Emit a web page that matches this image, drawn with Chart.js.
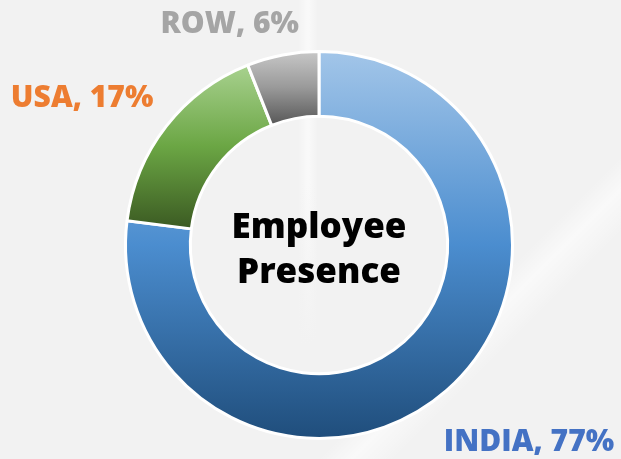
<!DOCTYPE html>
<html lang="en">
<head>
  <meta charset="UTF-8">
  <title>Employee Presence</title>
  <style>
    html, body { margin: 0; padding: 0; }
    body {
      width: 621px; height: 459px; overflow: hidden;
      background:
        linear-gradient(135deg, rgba(255,255,255,0) 72%, rgba(255,255,255,0.55) 75%, rgba(255,255,255,0) 79%),
        linear-gradient(180deg, rgba(242,242,242,0) 40%, #f2f2f2 75%),
        linear-gradient(90deg, rgba(255,255,255,0) 298px, rgba(255,255,255,0.6) 308px, rgba(255,255,255,0) 318px),
        #f2f2f2;
    }
    #wrap { position: relative; width: 621px; height: 459px; }
  </style>
</head>
<body>
  <div id="wrap"><canvas id="presenceChart"></canvas></div>

  <script src="https://cdn.jsdelivr.net/npm/chart.js"></script>
  <script>
    // regions and share of employees (%)
    const regions = ['INDIA', 'USA', 'ROW'];
    const shares = [77, 17, 6];
    const centerLines = ['Employee', 'Presence'];

    // top -> bottom gradient stops for each slice
    const sliceStops = [
      ['#a3c6e9', '#4b8dcf', '#1f4d7b'],
      ['#a9d290', '#6ba644', '#3b5a22'],
      ['#c9c9c9', '#9a9a9a', '#585858']
    ];
    const labelColors = ['#4472c4', '#ed7d31', '#a5a5a5'];
    // label offset from the outer mid point of each slice
    const labelShift = [[82, 52], [-84, -28], [-53, -30]];

    const FONT = '"Open Sans", "Noto Sans", sans-serif';

    // vertical extent of one slice, so each slice gets its own gradient
    function sliceRange(chart, index) {
      const area = chart.chartArea;
      const cy = (area.top + area.bottom) / 2;
      const outer = Math.min(area.right - area.left, area.bottom - area.top) / 2;
      const inner = outer * 0.665;
      const total = shares.reduce((a, b) => a + b, 0);
      let start = -Math.PI / 2;
      for (let i = 0; i < index; i++) start += shares[i] / total * Math.PI * 2;
      const end = start + shares[index] / total * Math.PI * 2;
      let top = Infinity, bottom = -Infinity;
      for (let s = 0; s <= 60; s++) {
        const a = start + (end - start) * s / 60;
        [outer, inner].forEach(r => {
          const y = cy + r * Math.sin(a);
          top = Math.min(top, y);
          bottom = Math.max(bottom, y);
        });
      }
      return [top, bottom];
    }

    const sliceLabels = {
      id: 'sliceLabels',
      afterDatasetsDraw(chart) {
        const ctx = chart.ctx;
        const arcs = chart.getDatasetMeta(0).data;
        ctx.save();
        ctx.font = '800 30px ' + FONT;
        ctx.textAlign = 'center';
        ctx.textBaseline = 'middle';
        arcs.forEach((arc, i) => {
          const mid = (arc.startAngle + arc.endAngle) / 2;
          const x = arc.x + arc.outerRadius * Math.cos(mid) + labelShift[i][0];
          const y = arc.y + arc.outerRadius * Math.sin(mid) + labelShift[i][1];
          ctx.fillStyle = labelColors[i];
          ctx.fillText(regions[i] + ', ' + shares[i] + '%', x, y);
        });

        // title in the hole
        const a = arcs[0];
        ctx.fillStyle = '#000000';
        ctx.font = '800 35px ' + FONT;
        ctx.textBaseline = 'alphabetic';
        ctx.fillText(centerLines[0], a.x, a.y - 7);
        ctx.fillText(centerLines[1], a.x, a.y + 38);
        ctx.restore();
      }
    };

    new Chart(document.getElementById('presenceChart'), {
      type: 'doughnut',
      data: {
        labels: regions,
        datasets: [{
          data: shares,
          backgroundColor(context) {
            const chart = context.chart;
            if (!chart.chartArea) return sliceStops[context.dataIndex][1];
            const [top, bottom] = sliceRange(chart, context.dataIndex);
            const g = chart.ctx.createLinearGradient(0, top, 0, bottom);
            const stops = sliceStops[context.dataIndex];
            g.addColorStop(0, stops[0]);
            g.addColorStop(0.5, stops[1]);
            g.addColorStop(1, stops[2]);
            return g;
          },
          borderColor: '#ffffff',
          borderWidth: 3
        }]
      },
      options: {
        responsive: true,
        maintainAspectRatio: false,
        animation: false,
        cutout: '66.5%',
        layout: { padding: { top: 50, bottom: 19, left: 17, right: 0 } },
        plugins: {
          legend: { display: false },
          tooltip: { enabled: false }
        }
      },
      plugins: [sliceLabels]
    });
  </script>
</body>
</html>
